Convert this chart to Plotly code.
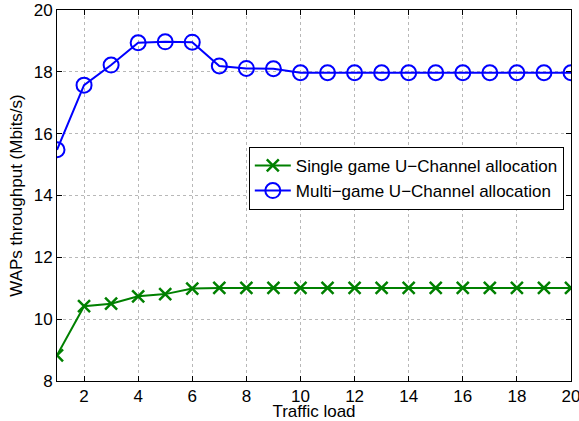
import plotly.graph_objects as go

# Daten
traffic_load = list(range(1, 21))
single_game = [8.83, 10.42, 10.50, 10.74, 10.81, 10.99, 11.01, 11.01, 11.01, 11.01,
               11.01, 11.01, 11.01, 11.01, 11.01, 11.01, 11.01, 11.01, 11.01, 11.01]
multi_game = [15.48, 17.57, 18.22, 18.94, 18.97, 18.96, 18.19, 18.11, 18.10, 17.97,
              17.97, 17.97, 17.97, 17.97, 17.97, 17.97, 17.97, 17.97, 17.97, 17.97]
x_ticks = [2, 4, 6, 8, 10, 12, 14, 16, 18, 20]
y_ticks = [8, 10, 12, 14, 16, 18, 20]

font = "Liberation Sans, Arial, sans-serif"
fsize = 17

fig = go.Figure()
fig.add_scatter(
    x=traffic_load, y=single_game, mode="lines+markers",
    name="Single game U\u2212Channel allocation",
    line=dict(color="#008000", width=2),
    marker=dict(symbol="x-thin", size=12, line=dict(color="#008000", width=2.5)),
)
fig.add_scatter(
    x=traffic_load, y=multi_game, mode="lines+markers",
    name="Multi\u2212game U\u2212Channel allocation",
    line=dict(color="#0000ff", width=2),
    marker=dict(symbol="circle-open", size=15, line=dict(color="#0000ff", width=2)),
)

axis_style = dict(
    showline=True, linecolor="black", linewidth=1, mirror="ticks",
    ticks="inside", ticklen=5, tickcolor="black", automargin=False,
    ticklabeloverflow="allow",
    showgrid=True, gridcolor="#b8b8b8", griddash="dot", gridwidth=1,
    zeroline=False, tickfont=dict(size=fsize, color="black", family=font),
)

fig.update_xaxes(range=[1, 20], tickvals=x_ticks,
                 title=dict(text="Traffic load", font=dict(size=fsize, color="black", family=font), standoff=2),
                 **axis_style)
fig.update_yaxes(range=[8, 20], tickvals=y_ticks,
                 title=dict(text="WAPs throughput (Mbits/s)", font=dict(size=fsize, color="black", family=font), standoff=6),
                 **axis_style)

fig.update_layout(
    width=579, height=421,
    margin=dict(l=57, r=8, t=10, b=40),
    paper_bgcolor="white", plot_bgcolor="white",
    font=dict(family=font, size=fsize, color="black"),
    legend=dict(x=0.986, y=0.631, xanchor="right", yanchor="top",
                bgcolor="white", bordercolor="black", borderwidth=1,
                font=dict(size=fsize, family=font, color="black"),
                tracegroupgap=0, itemwidth=36),
)

# Seitenrand des Browsers entfernen, damit die Grafik bei (0, 0) beginnt
fig.write_html("out.html", config={"displayModeBar": False},
               post_script="document.body.style.margin='0';")
